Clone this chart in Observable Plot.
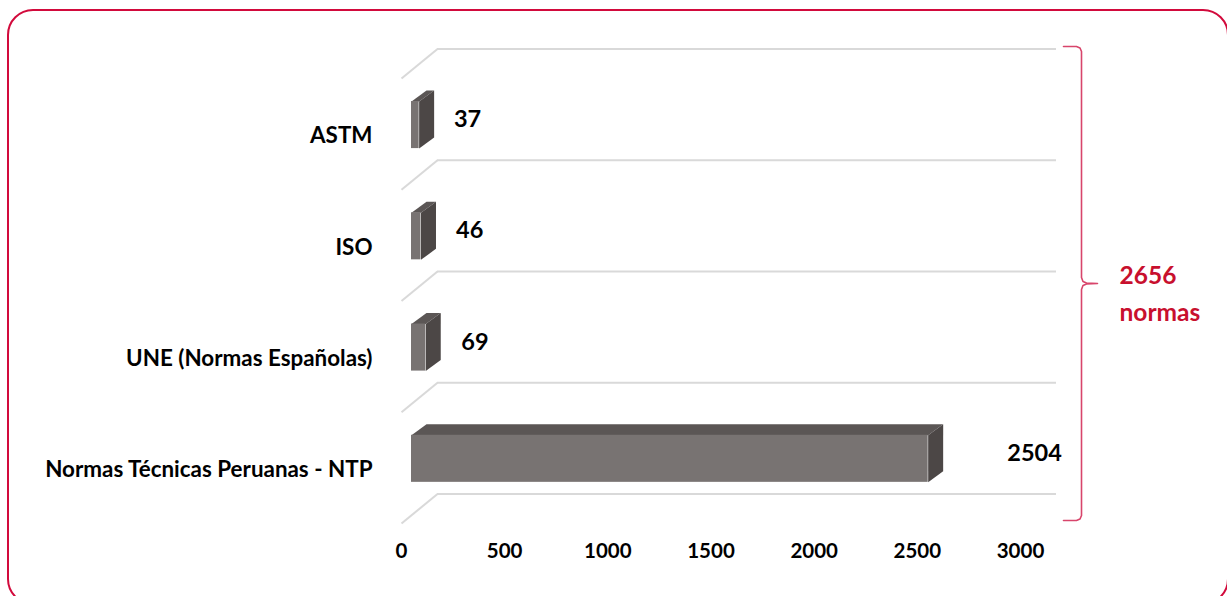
<!DOCTYPE html>
<html><head><meta charset="utf-8">
<script src="https://cdn.jsdelivr.net/npm/d3@7"></script>
<script src="https://cdn.jsdelivr.net/npm/@observablehq/plot@0.6"></script>
<style>
html,body{margin:0;padding:0;background:#fff;overflow:hidden;width:1227px;height:596px;}
#chart{position:absolute;left:0;top:0;}
#frame{position:absolute;left:7px;top:9px;width:1222px;height:596px;border:2px solid #d20a3c;border-radius:26px;pointer-events:none;box-sizing:border-box;}
</style></head><body>
<div id="chart"></div><div id="frame"></div>
<script>
const categories = ["ASTM", "ISO", "UNE (Normas Españolas)", "Normas Técnicas Peruanas - NTP"];
const values = [37, 46, 69, 2504];
const xTicks = [0, 500, 1000, 1500, 2000, 2500, 3000];
const totalLabel = ["2656", "normas"];

const W = 1227, H = 596, ML = 401, MR = 207, MT = 78, MB = 73;
const kx = 3000 / (W - ML - MR);   // data units per px
const ky = 4 / (H - MT - MB);      // index units per px
const wallDX = 36, wallDY = -29.5;
const barX0 = 10, barDX = 15, barDY = -11;
const barTop = 0.207, barBot = 0.63;
const font = "Lato, 'Open Sans', sans-serif";

const rows = categories.map((c, i) => ({c, i, v: values[i]}));
const topFaces = rows.flatMap(r => {
  const y = r.i + barTop, x0 = barX0 * kx, x1 = r.v + barX0 * kx;
  const bx = barDX * kx, by = barDY * ky;
  return [{k: r.c, x: x0, y}, {k: r.c, x: x1, y}, {k: r.c, x: x1 + bx, y: y + by}, {k: r.c, x: x0 + bx, y: y + by}];
});
const sideFaces = rows.flatMap(r => {
  const yt = r.i + barTop, yb = r.i + barBot, x1 = r.v + barX0 * kx;
  const bx = barDX * kx, by = barDY * ky;
  return [{k: r.c, x: x1, y: yt}, {k: r.c, x: x1 + bx, y: yt + by}, {k: r.c, x: x1 + bx, y: yb + by}, {k: r.c, x: x1, y: yb}];
});

// bracket anchored to the plot's right edge and top/bottom of the grid
const xEnd = 3000;
const bTop = 0 + (wallDY - 2.5) * ky, bBot = 4 - 3 * ky, bMid = (bTop + bBot) / 2;
const X = off => xEnd + off * kx, Y = (base, off) => base + off * ky;
const bracket = [
  {x: X(43), y: bTop}, {x: X(56), y: bTop}, {x: X(59.5), y: Y(bTop, 1.5)}, {x: X(61), y: Y(bTop, 5)},
  {x: X(61), y: Y(bMid, -6)}, {x: X(62.5), y: Y(bMid, -2)}, {x: X(66), y: Y(bMid, -0.5)}, {x: X(77), y: bMid},
  {x: X(66), y: Y(bMid, 0.5)}, {x: X(62.5), y: Y(bMid, 2)}, {x: X(61), y: Y(bMid, 6)},
  {x: X(61), y: Y(bBot, -5)}, {x: X(59.5), y: Y(bBot, -1.5)}, {x: X(56), y: bBot}, {x: X(43), y: bBot}
];

const grid = d3.range(categories.length + 1);

const chart = Plot.plot({
  width: W, height: H,
  marginLeft: ML, marginRight: MR, marginTop: MT, marginBottom: MB,
  style: {fontFamily: font, fontWeight: "bold", color: "#000", background: "transparent", overflow: "visible"},
  x: {domain: [0, 3000], axis: null},
  y: {domain: [0, 4], reverse: true, axis: null},
  marks: [
    Plot.ruleY(grid, {y: d => d + wallDY * ky, x1: wallDX * kx, x2: 3000 + wallDX * kx, stroke: "#d9d9d9", strokeWidth: 2}),
    Plot.link(grid, {x1: 0, y1: d => d, x2: wallDX * kx, y2: d => d + wallDY * ky, stroke: "#d9d9d9", strokeWidth: 2}),
    Plot.line(topFaces, {x: "x", y: "y", z: "k", fill: "#5b5655", stroke: "none"}),
    Plot.line(sideFaces, {x: "x", y: "y", z: "k", fill: "#4c4746", stroke: "none"}),
    Plot.rect(rows, {x1: barX0 * kx, x2: d => d.v + barX0 * kx, y1: d => d.i + barTop, y2: d => d.i + barBot, fill: "#787372"}),
    Plot.text(rows, {x: d => 279 + 1.114 * d.v, y: d => d.i + 0.37, text: d => String(d.v), fontSize: 23.5, fill: "#000"}),
    Plot.axisY(rows.map(r => r.i + 0.5), {tickFormat: d => categories[Math.floor(d)], tickSize: 0, tickPadding: 29, dy: 2, fontSize: 22.4, fill: "#000", label: null}),
    Plot.axisX(xTicks, {tickFormat: d => String(d), tickSize: 0, tickPadding: 20, fontSize: 20.5, fill: "#000", label: null}),
    Plot.line(bracket, {x: "x", y: "y", stroke: "#d8456b", strokeWidth: 1.6, curve: "linear"}),
    Plot.text([totalLabel.join("\n")], {x: X(99), y: Y(bMid, 7), text: d => d, textAnchor: "start", lineAnchor: "middle", lineHeight: 1.5, fontSize: 24.5, fill: "#c8102e"})
  ]
});
document.getElementById("chart").appendChild(chart);
</script>
</body></html>
